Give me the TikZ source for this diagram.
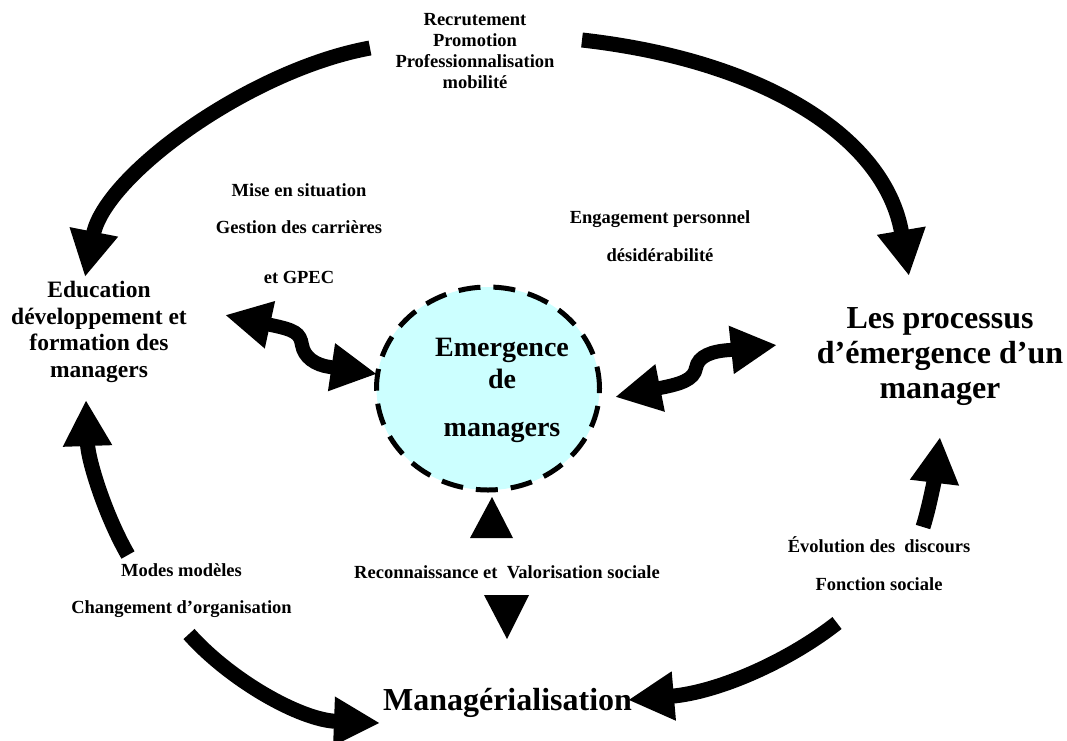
\documentclass[tikz,border=0pt]{standalone}
\usepackage{fontspec}
\setmainfont{Liberation Serif}
\usetikzlibrary{arrows.meta,shapes.geometric}
\definecolor{cyanpale}{RGB}{204,255,255}

\begin{document}
\begin{tikzpicture}[
	x=1pt, y=-1pt,
	petit/.style={
		font=\fontsize{18.5}{21.3}\selectfont\bfseries,
		align=center,
	},
	moyen/.style={
		font=\fontsize{23.5}{26.7}\selectfont\bfseries,
		align=center,
	},
	titre/.style={
		font=\fontsize{32}{35}\selectfont\bfseries,
		align=center,
	},
	bulle/.style={
		ellipse,
		draw,
		fill=cyanpale,
		line width=5pt,
		dash pattern=on 22pt off 13pt,
		minimum width=223pt,
		minimum height=203pt,
	},
	Fleche/.style={% big curved arrows
		line width=15pt,
		-{Triangle[width=46pt,length=46pt]},
	},
	FlecheD/.style={% wavy double arrows
		line width=14pt,
		{Triangle[width=45pt,length=46pt]}-{Triangle[width=45pt,length=46pt]},
	},
]
	\useasboundingbox (0,0) rectangle (1067,740);

	\node [bulle] (bulle) at (488,388.5) {};
	\node [font=\fontsize{28}{32}\selectfont\bfseries, align=center] (emergence) at (502,390) {Emergence\\de\\[16pt]managers};

	\node [petit] (recrut) at (475,51) {Recrutement\\Promotion\\Professionnalisation\\mobilité};
	\node [petit] (mise) at (299,233.5) {Mise en situation\\[15.7pt]Gestion des carrières\\[28.7pt]et GPEC};
	\node [petit] (engage) at (660,236) {Engagement personnel\\[16.7pt]désidérabilité};
	\node [moyen] (educ) at (99,332) {Education\\développement et\\formation des\\managers};
	\node [titre] (processus) at (940,357) {Les processus\\d’émergence d’un\\manager};
	\node [petit] (reco) at (507,572) {Reconnaissance et\ \ Valorisation sociale};
	\node [petit] (modes) at (181.5,590.5) {Modes modèles\\[15.7pt]Changement d’organisation};
	\node [petit] (evol) at (879,564) {Évolution des\ \ discours\\[16.7pt]Fonction sociale};
	\node [titre] (manag) at (507.5,703) {Managérialisation};

	\coordinate (hautG) at (370,48);
	\coordinate (hautD) at (582,40);
	\coordinate (educH) at (85,277);
	\coordinate (educB) at (86,400);
	\coordinate (procH) at (909,276);
	\coordinate (procB) at (940,437);
	\coordinate (modesH) at (128,555);
	\coordinate (modesB) at (189,634);
	\coordinate (evolH) at (923,527);
	\coordinate (evolB) at (837,623);
	\coordinate (managG) at (380,723);
	\coordinate (managD) at (628,700);

	\draw [Fleche] (hautG) .. controls (250,70) and (105,175) .. (educH);
	\draw [Fleche] (hautD) .. controls (760,60) and (885,135) .. (procH);
	\draw [Fleche] (modesH) .. controls (105,515) and (88,460) .. (educB);
	\draw [Fleche] (modesB) .. controls (230,680) and (300,720) .. (managG);
	\draw [Fleche] (evolH) .. controls (930,505) and (936,470) .. (procB);
	\draw [Fleche] (evolB) .. controls (790,660) and (720,692) .. (managD);

	% wavy arrows to the bubble
	\coordinate (vagueG) at (225,315);
	\coordinate (bulleG) at (377,374);
	\coordinate (bulleD) at (615,397);
	\coordinate (vagueD) at (777,345);
	\draw [FlecheD] (vagueG) -- (271,325) .. controls (295,330) and (300,333) .. (302,345)
		.. controls (304,357) and (315,365) .. (330,367) -- (bulleG);
	\draw [FlecheD] (bulleD) -- (660,388) .. controls (680,384) and (694,380) .. (696,368)
		.. controls (698,356) and (712,351) .. (730,350) -- (vagueD);

	% triangles above and below the middle label
	\coordinate (triH) at (492,497);
	\coordinate (triB) at (507,639);
	\fill (triH) -- (470,538) -- (513,538) -- cycle;
	\fill (triB) -- (484,595) -- (529,595) -- cycle;
\end{tikzpicture}
\end{document}
